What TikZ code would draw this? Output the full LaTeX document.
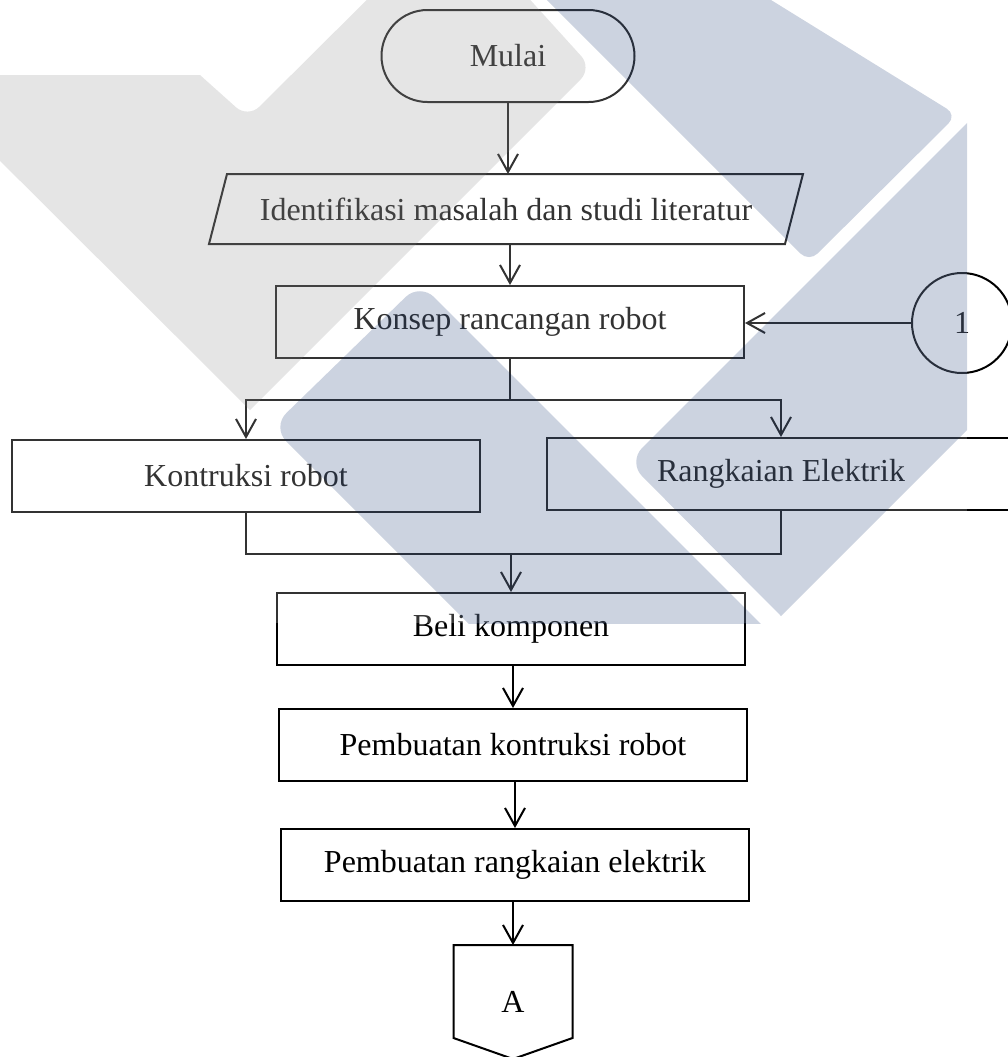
\documentclass[tikz,border=0pt]{standalone}
\usepackage{fontspec}
\setmainfont{Liberation Serif}
\usetikzlibrary{arrows.meta,calc,positioning}

\definecolor{wmblue}{RGB}{0,35,100}
\definecolor{wmgray}{RGB}{125,125,125}

\begin{document}
\begin{tikzpicture}[x=0.5pt,y=-0.5pt,
  line width=1pt,
  every node/.style={font=\fontsize{16pt}{19pt}\selectfont, inner sep=0pt},
  proc/.style={draw, minimum width=234pt, minimum height=36pt},
  term/.style={draw, minimum width=126.5pt, minimum height=46pt, rounded corners=23pt},
  conn/.style={draw, circle, minimum size=50pt},
  arr/.style={-{Straight Barb[length=9pt,width=10pt]}}]
\useasboundingbox (0,0) rectangle (1008,1057);
\clip (0,0) rectangle (1008,1057);

% start and input
\node[term] (mulai) at (508,56) {Mulai};
\node[minimum width=287pt, minimum height=34pt] (idl) at (506,209) {Identifikasi masalah dan studi literatur};
\draw ($(idl.north west)+(9,0)$) -- ($(idl.north east)+(9,0)$) -- ($(idl.south east)+(-9,0)$) -- ($(idl.south west)+(-9,0)$) -- cycle;

% process boxes
\node[proc] (konsep) at (510,322) {Konsep rancangan robot};
\node[conn] (satu) at (962,323) {1};
\node[proc] (kontruksi) at (246,476) {Kontruksi robot};
\node[proc] (rangkaian) at (781,474) {Rangkaian Elektrik};
\node[proc] (beli) at (511,629) {Beli komponen};
\node[proc] (pk) at (513,745) {Pembuatan kontruksi robot};
\node[proc] (pr) at (515,865) {Pembuatan rangkaian elektrik};

% off-page connector
\node[minimum width=58.5pt, minimum height=56pt] (offA) at (513,1002) {A};
\draw (offA.north west) -- (offA.north east) -- ($(offA.south east)+(0,-21)$) -- (offA.south) -- ($(offA.south west)+(0,-21)$) -- cycle;

% connectors
\draw[arr] (mulai.south) -- (mulai.south |- idl.north);
\draw[arr] (konsep.north |- idl.south) -- (konsep.north);
\draw[arr] (satu) -- (satu -| konsep.east);

\coordinate (split) at ($(konsep.south)+(0,41)$);
\draw (konsep.south) -- (split);
\draw[arr] (split) -| (kontruksi.north);
\draw[arr] (split) -| (rangkaian.north);

\coordinate (join) at ($(kontruksi.south)+(0,41)$);
\draw (kontruksi.south) -- (join) -- (join -| rangkaian.south) -- (rangkaian.south);
\draw[arr] (join -| beli.north) -- (beli.north);

\foreach \a/\b in {beli/pk, pk/pr, pr/offA}
  \draw[arr] (\a.south -| \b.north) -- (\b.north);

% watermark
\begin{scope}
  \clip (0,0) rectangle (967,623);
  \fill[white, fill opacity=0.2] (0,0) rectangle (967,623);
  \fill[wmgray, fill opacity=0.2] (-60,75) -- (200,75) [rounded corners=8pt] -- (248,118) -- (427,-60) -- (476,-60) -- (592,68) [sharp corners] -- (250,410) -- (-60,101) -- cycle;
  \fill[wmblue, fill opacity=0.2] (487,-60) -- (674,-60) [rounded corners=6pt] -- (957,115) -- (809,262) [sharp corners] -- cycle;
  \fill[wmblue, fill opacity=0.2] (781,616) [rounded corners=10pt] -- (628,462) [sharp corners] -- (1030,60) -- (1030,367) -- cycle;
  \fill[wmblue, fill opacity=0.2] (528,683) [rounded corners=10pt] -- (272,427) -- (420,283) [sharp corners] -- (820,683) -- cycle;
\end{scope}
\end{tikzpicture}
\end{document}
